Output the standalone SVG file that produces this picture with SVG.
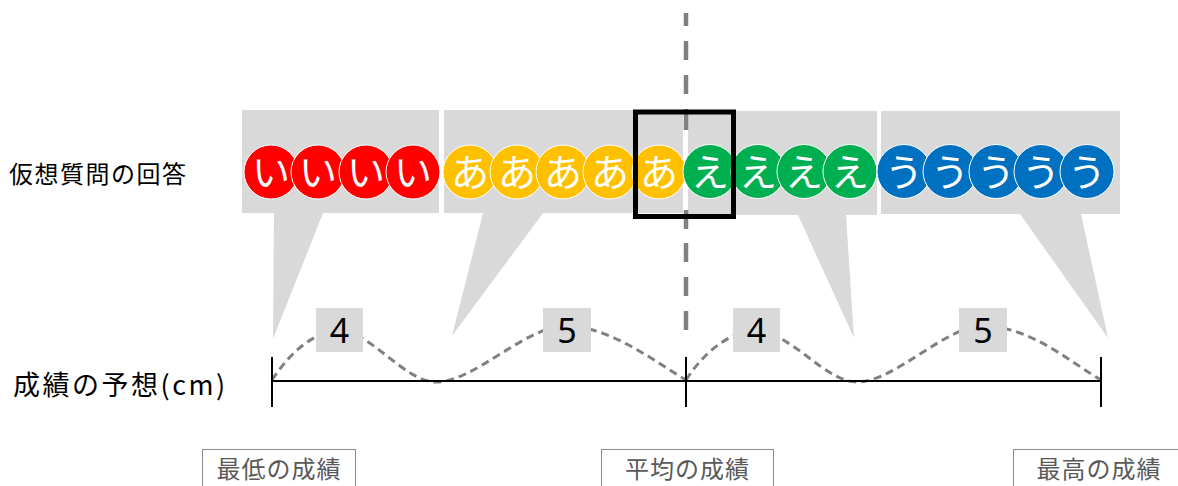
<svg xmlns="http://www.w3.org/2000/svg" width="1178" height="486" viewBox="0 0 1178 486">
<style>
.callout{fill:#D9D9D9}
.c{stroke:#FFFFFF;stroke-width:1}
.red{fill:#FF0000}.org{fill:#FFC000}.grn{fill:#00B050}.blu{fill:#0070C0}
.ct{font-family:"Noto Sans CJK JP",sans-serif;font-size:38px;fill:#FFFFFF;text-anchor:middle}
.lbl{font-family:"Noto Sans CJK JP",sans-serif;fill:#000000}
.num{font-family:"Noto Sans","Liberation Sans",sans-serif;font-size:34px;fill:#000000;text-anchor:middle}
.nbox{fill:#D9D9D9}
.bbox{fill:#FFFFFF;stroke:#8C8C8C;stroke-width:1}
.bt{font-family:"Noto Sans CJK JP",sans-serif;font-size:24px;fill:#595959;text-anchor:middle;letter-spacing:1px}
.wave{fill:none;stroke:#808080;stroke-width:3;stroke-dasharray:8 5}
.axis{stroke:#000000;stroke-width:2;fill:none}
</style>

<g id="labels">
<text class="lbl" x="9" y="183" font-size="24" letter-spacing="1.5">仮想質問の回答</text>
<text class="lbl" x="13" y="395" font-size="27" letter-spacing="2.5">成績の予想(cm)</text>
</g>

<g id="callout-i">
<path class="callout" d="M242,110 H439 V213 H323 L273,339 L274,213 H242 Z"/>
<circle class="c red" cx="271" cy="172" r="27"/>
<circle class="c red" cx="318" cy="172" r="27"/>
<circle class="c red" cx="366" cy="172" r="27"/>
<circle class="c red" cx="413" cy="172" r="27"/>
<text class="ct" x="271" y="186">い</text>
<text class="ct" x="318" y="186">い</text>
<text class="ct" x="366" y="186">い</text>
<text class="ct" x="413" y="186">い</text>
</g>

<g id="callout-a">
<path class="callout" d="M444,110 H683 V213 H543 L452,336 L483,213 H444 Z"/>
<circle class="c org" cx="470" cy="172" r="27"/>
<circle class="c org" cx="517" cy="172" r="27"/>
<circle class="c org" cx="563" cy="172" r="27"/>
<circle class="c org" cx="610" cy="172" r="27"/>
<circle class="c org" cx="659" cy="172" r="27"/>
<text class="ct" x="470" y="186">あ</text>
<text class="ct" x="517" y="186">あ</text>
<text class="ct" x="563" y="186">あ</text>
<text class="ct" x="610" y="186">あ</text>
<text class="ct" x="659" y="186">あ</text>
</g>

<g id="callout-e">
<path class="callout" d="M688,111 H877 V215 H846 L854,338 L798,215 H688 Z"/>
<circle class="c grn" cx="710" cy="171.5" r="27"/>
<circle class="c grn" cx="758" cy="171.5" r="27"/>
<circle class="c grn" cx="804" cy="171.5" r="27"/>
<circle class="c grn" cx="850" cy="171.5" r="27"/>
<text class="ct" x="710" y="186">え</text>
<text class="ct" x="758" y="186">え</text>
<text class="ct" x="804" y="186">え</text>
<text class="ct" x="850" y="186">え</text>
</g>

<g id="callout-u">
<path class="callout" d="M881,111 H1120 V214 H1081 L1108,338 L1020,214 H881 Z"/>
<circle class="c blu" cx="904" cy="171.5" r="27"/>
<circle class="c blu" cx="950" cy="171.5" r="27"/>
<circle class="c blu" cx="996" cy="171.5" r="27"/>
<circle class="c blu" cx="1041" cy="171.5" r="27"/>
<circle class="c blu" cx="1087" cy="171.5" r="27"/>
<text class="ct" x="904" y="186">う</text>
<text class="ct" x="950" y="186">う</text>
<text class="ct" x="996" y="186">う</text>
<text class="ct" x="1041" y="186">う</text>
<text class="ct" x="1087" y="186">う</text>
</g>

<g id="connectors">
<path d="M686,13 V26 M686,41 V60 M686,75 V94 M686,109 V130 M686,210 V229 M686,243 V262 M686,277 V296 M686,311 V330" stroke="#808080" stroke-width="4.5" fill="none"/>
<rect x="635.5" y="112" width="98" height="104.5" fill="none" stroke="#000000" stroke-width="5"/>
<path class="wave" d="M272,380 C292,350 315,331 340,331 C370,331 405,382 436,382 C475,382 525,326 566,326 C610,326 655,362 686,380"/>
<path class="wave" d="M686,380 C704,352 730,331 756,331 C790,331 825,382 857,382 C895,382 945,326 983,326 C1030,326 1070,362 1101,380"/>
<path class="axis" d="M272,381 H1101 M272,357 V407 M686,357 V407 M1101,357 V407"/>
</g>

<g id="numbers">
<rect class="nbox" x="316" y="308" width="47" height="44"/>
<text class="num" x="339.5" y="343">4</text>
<rect class="nbox" x="543" y="308" width="48" height="44"/>
<text class="num" x="567" y="343">5</text>
<rect class="nbox" x="733" y="308" width="47" height="44"/>
<text class="num" x="756.5" y="343">4</text>
<rect class="nbox" x="959" y="308" width="48" height="44"/>
<text class="num" x="983" y="343">5</text>
</g>

<g id="box-min">
<rect class="bbox" x="202.5" y="449.5" width="153" height="50"/>
<text class="bt" x="279" y="478">最低の成績</text>
</g>
<g id="box-avg">
<rect class="bbox" x="601.5" y="449.5" width="172" height="50"/>
<text class="bt" x="687.5" y="478">平均の成績</text>
</g>
<g id="box-max">
<rect class="bbox" x="1013.5" y="449.5" width="180" height="50"/>
<text class="bt" x="1099" y="478">最高の成績</text>
</g>
</svg>
